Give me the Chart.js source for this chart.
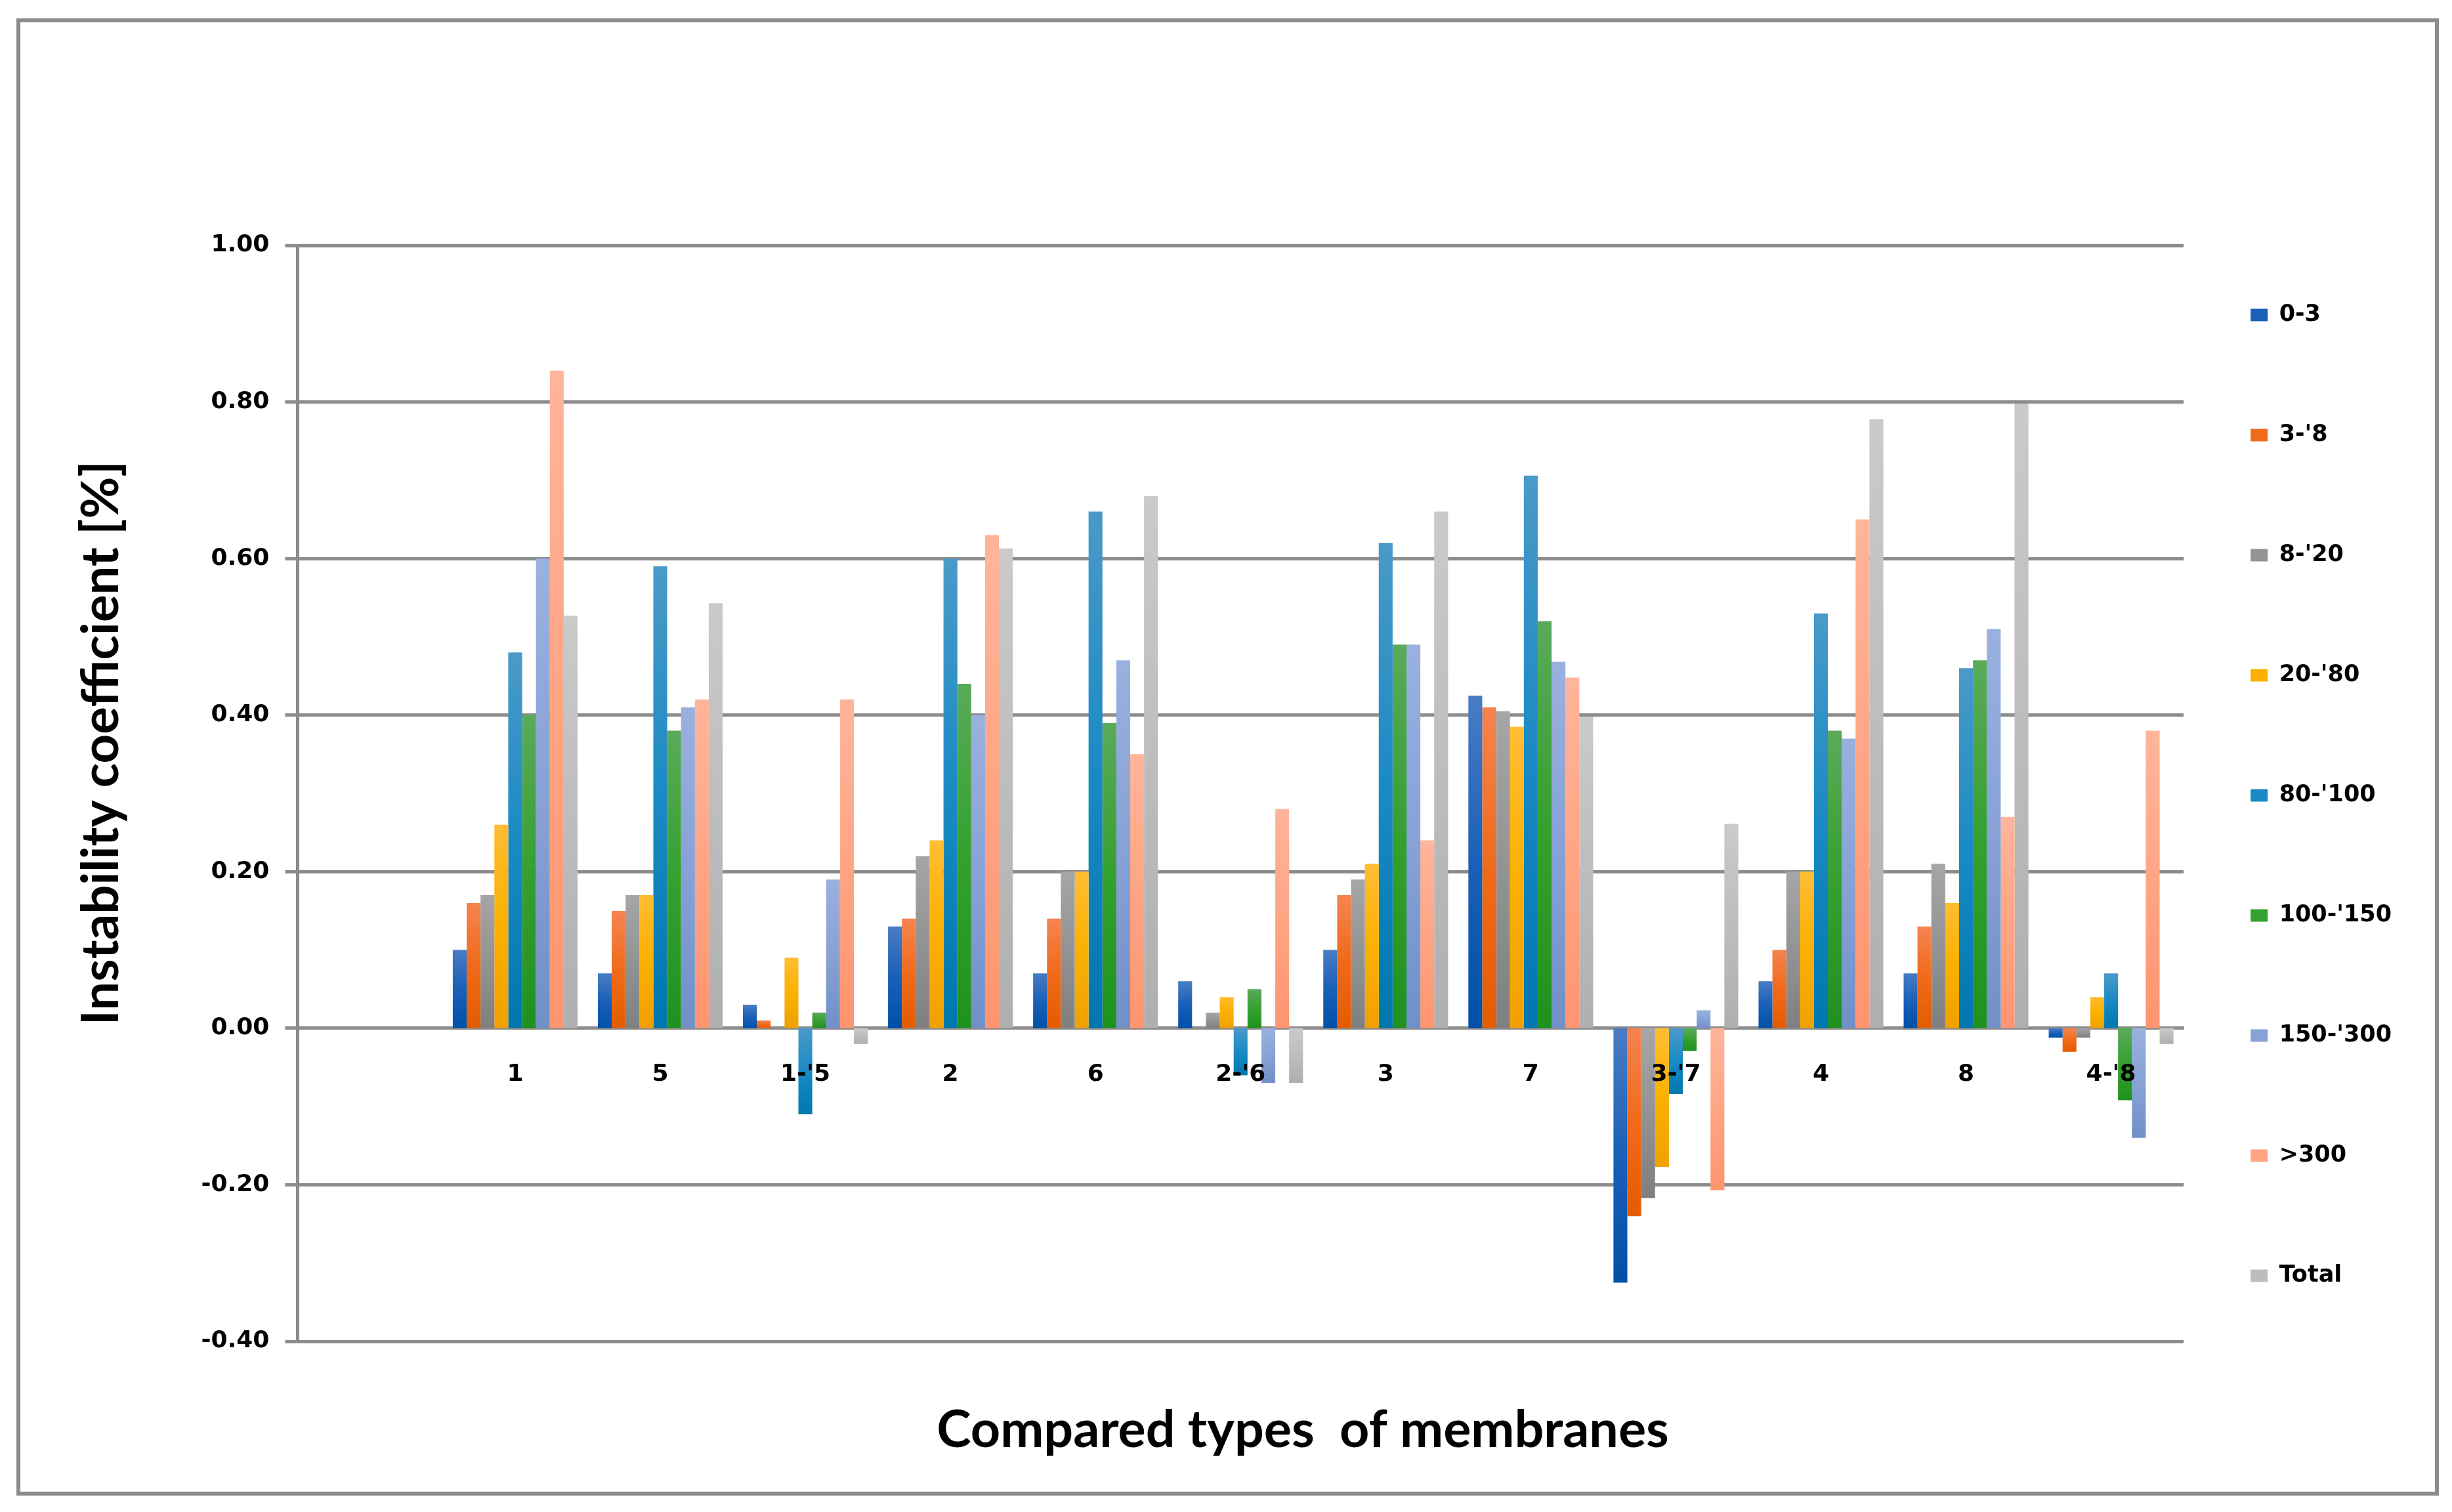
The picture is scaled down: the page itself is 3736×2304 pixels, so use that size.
<!DOCTYPE html>
<html>
<head>
<meta charset="utf-8">
<script src="https://cdn.jsdelivr.net/npm/chart.js@4/dist/chart.umd.min.js"></script>
<style>
  html, body { margin: 0; padding: 0; background: #ffffff; }
  #wrap { width: 3736px; height: 2304px; position: relative; }
</style>
</head>
<body>
<div id="wrap"><canvas id="instabilityChart"></canvas></div>
<script>
// Categories (first slot is empty in the original chart)
const membranes = ["", "1", "5", "1-'5", "2", "6", "2-'6", "3", "7", "3-'7", "4", "8", "4-'8"];

// Series values, one per size class
const s0_3     = [null, 0.10, 0.07, 0.03, 0.13, 0.07, 0.06, 0.10, 0.425, -0.325, 0.06, 0.07, -0.012];
const s3_8     = [null, 0.16, 0.15, 0.01, 0.14, 0.14, 0, 0.17, 0.41, -0.24, 0.10, 0.13, -0.03];
const s8_20    = [null, 0.17, 0.17, 0, 0.22, 0.20, 0.02, 0.19, 0.405, -0.217, 0.20, 0.21, -0.012];
const s20_80   = [null, 0.26, 0.17, 0.09, 0.24, 0.20, 0.04, 0.21, 0.385, -0.177, 0.20, 0.16, 0.04];
const s80_100  = [null, 0.48, 0.59, -0.11, 0.60, 0.66, -0.06, 0.62, 0.706, -0.084, 0.53, 0.46, 0.07];
const s100_150 = [null, 0.40, 0.38, 0.02, 0.44, 0.39, 0.05, 0.49, 0.52, -0.029, 0.38, 0.47, -0.092];
const s150_300 = [null, 0.60, 0.41, 0.19, 0.40, 0.47, -0.07, 0.49, 0.468, 0.023, 0.37, 0.51, -0.14];
const sOver300 = [null, 0.84, 0.42, 0.42, 0.63, 0.35, 0.28, 0.24, 0.448, -0.207, 0.65, 0.27, 0.38];
const sTotal   = [null, 0.527, 0.543, -0.02, 0.613, 0.68, -0.07, 0.66, 0.398, 0.261, 0.778, 0.798, -0.02];

const seriesNames = ["0-3", "3-'8", "8-'20", "20-'80", "80-'100", "100-'150", "150-'300", ">300", "Total"];
const seriesData = [s0_3, s3_8, s8_20, s20_80, s80_100, s100_150, s150_300, sOver300, sTotal];
// flat colour (legend) plus light/dark ends of each bar's gradient
const seriesColors = ["#1a60b8", "#f06a1a", "#939393", "#fbb000", "#1a8ac4", "#35a030", "#88a2d6", "#ffa584", "#bdbdbd"];
const lightColors  = ["#4a7cc4", "#f58450", "#a6a6a6", "#ffbd33", "#4a9ac8", "#5aaa5a", "#9ab1df", "#ffb59b", "#cacaca"];
const darkColors   = ["#0050a8", "#e45c00", "#7f7f7f", "#f0a000", "#0077ae", "#1f911f", "#7090c8", "#ff9470", "#afafaf"];

// Y axis ticks
const yMin = -0.4;
const yMax = 1.0;
const yStep = 0.2;

const xTitle = "Compared types  of membranes";
const yTitle = "Instability coefficient [%]";

const gridGray = "#8c8c8c";

function barFill(i) {
    return (c) => {
        const ys = c.chart.scales.y;
        if (c.type !== "data" || c.raw == null || !ys) return seriesColors[i];
        const top = ys.getPixelForValue(Math.max(c.raw, 0));
        const bot = ys.getPixelForValue(Math.min(c.raw, 0));
        if (!isFinite(top) || !isFinite(bot) || bot - top < 1) return seriesColors[i];
        const g = c.chart.ctx.createLinearGradient(0, top, 0, bot);
        g.addColorStop(0, lightColors[i]);
        g.addColorStop(0.5, seriesColors[i]);
        g.addColorStop(1, darkColors[i]);
        return g;
    };
}

// outer frame + axis titles (both sit off-centre in the original)
const framePlugin = {
    id: "frame",
    afterDraw(chart) {
        const ctx = chart.ctx;
        const area = chart.chartArea;
        ctx.save();
        ctx.strokeStyle = gridGray;
        ctx.lineWidth = 6;
        ctx.strokeRect(28, 31, chart.width - 28 - 23, chart.height - 31 - 28);

        ctx.fillStyle = "#000";
        ctx.textAlign = "center";
        ctx.textBaseline = "middle";
        ctx.font = "bold 79px Lato";
        ctx.fillText(xTitle, area.left + (area.right - area.left) * 0.533, 2180);

        ctx.font = "bold 78px Lato";
        ctx.translate(155, area.top + (area.bottom - area.top) * 0.454);
        ctx.rotate(-Math.PI / 2);
        ctx.fillText(yTitle, 0, 0);
        ctx.restore();
    }
};

new Chart("instabilityChart", {
    type: "bar",
    data: {
        labels: membranes,
        datasets: seriesNames.map((name, i) => ({
            label: name,
            data: seriesData[i],
            backgroundColor: barFill(i),
            borderWidth: 0
        }))
    },
    options: {
        responsive: true,
        maintainAspectRatio: false,
        animation: false,
        devicePixelRatio: 1,
        categoryPercentage: 0.86,
        barPercentage: 1.0,
        layout: {
            padding: { top: 40, bottom: 28, left: 40, right: 82 }
        },
        plugins: {
            // empty spacers above and below the plot
            title: {
                display: true,
                text: "",
                position: "top",
                fullSize: false,
                font: { size: 10 },
                padding: { top: 161, bottom: 161 }
            },
            subtitle: {
                display: true,
                text: "",
                position: "bottom",
                fullSize: false,
                font: { size: 10 },
                padding: { top: 110, bottom: 110 }
            },
            legend: {
                position: "right",
                fullSize: true,
                title: { display: true, text: "", font: { size: 10 }, padding: { top: 71, bottom: 71 } },
                labels: {
                    boxWidth: 26,
                    boxHeight: 19,
                    padding: 102,
                    color: "#000",
                    font: { family: "DejaVu Sans", weight: "bold", size: 35, lineHeight: "81px" },
                    generateLabels(chart) {
                        const items = Chart.defaults.plugins.legend.labels.generateLabels(chart);
                        items.forEach((it, i) => {
                            it.text = [it.text];
                            it.lineWidth = 0;
                            it.fillStyle = seriesColors[i];
                        });
                        return items;
                    }
                }
            },
            tooltip: { enabled: false }
        },
        scales: {
            x: {
                position: { y: 0 },
                grid: { display: false },
                border: { display: true, color: gridGray, width: 5 },
                ticks: {
                    z: 1,
                    color: "#000",
                    padding: 41,
                    font: { family: "DejaVu Sans", weight: "bold", size: 36 }
                }
            },
            y: {
                min: yMin,
                max: yMax,
                grid: { color: gridGray, lineWidth: 5, tickLength: 19, drawTicks: true },
                border: { display: true, color: gridGray, width: 5 },
                ticks: {
                    stepSize: yStep,
                    padding: 24,
                    color: "#000",
                    font: { family: "DejaVu Sans", weight: "bold", size: 36 },
                    callback: v => (Math.round(v * 100) / 100 + 0).toFixed(2)
                },
                // spacer for the rotated title drawn by the frame plugin
                title: {
                    display: true,
                    text: "",
                    font: { family: "Lato", weight: "bold", size: 78 },
                    padding: { top: 68, bottom: 81 }
                }
            }
        }
    },
    plugins: [framePlugin]
});
</script>
</body>
</html>
